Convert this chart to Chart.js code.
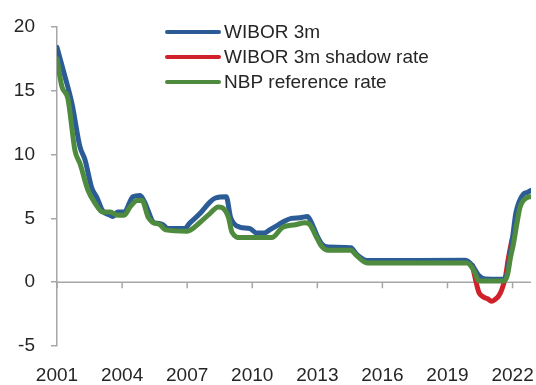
<!DOCTYPE html>
<html>
<head>
<meta charset="utf-8">
<script src="https://cdn.jsdelivr.net/npm/chart.js@4/dist/chart.umd.min.js"></script>
<style>
  html, body { margin: 0; padding: 0; background: #ffffff; }
  #wrap { position: relative; width: 536px; height: 385px; }
</style>
</head>
<body>
<div id="wrap"><canvas id="chart"></canvas></div>
<script>
// Interest rates in Poland, % (x = decimal year)
const seriesNames = ['WIBOR 3m', 'WIBOR 3m shadow rate', 'NBP reference rate'];

const wiborYears = [2001.0, 2001.37, 2001.69, 2002.06, 2002.29, 2002.6, 2002.85, 2003.1, 2003.45, 2003.58,
  2003.8, 2004.1, 2004.5, 2004.83, 2005.06, 2005.2, 2005.45, 2005.7, 2005.9, 2006.1,
  2006.9, 2007.1, 2007.6, 2008.06, 2008.3, 2008.8, 2009.0, 2009.15, 2009.45, 2009.9,
  2010.2, 2010.55, 2010.8, 2011.2, 2011.5, 2011.8, 2012.2, 2012.55, 2012.8, 2013.0,
  2013.2, 2013.5, 2014.55, 2014.8, 2015.3, 2019.83, 2020.15, 2020.43, 2020.75, 2021.53,
  2021.75, 2021.9, 2022.0, 2022.15, 2022.3, 2022.5, 2022.7, 2022.85];
const wiborValues = [18.4, 16.1, 14.0, 10.6, 9.6, 7.4, 6.6, 5.6, 5.25, 5.15,
  5.5, 5.5, 6.7, 6.8, 6.2, 5.6, 4.7, 4.6, 4.5, 4.2,
  4.2, 4.6, 5.4, 6.3, 6.6, 6.7, 5.1, 4.6, 4.3, 4.2,
  3.85, 3.85, 4.1, 4.5, 4.8, 5.0, 5.05, 5.15, 4.4, 3.6,
  3.0, 2.75, 2.7, 2.2, 1.7, 1.72, 1.3, 0.55, 0.25, 0.23,
  0.7, 2.3, 3.5, 5.4, 6.3, 6.9, 7.05, 7.2];

const shadowYears = [2020.15, 2020.3, 2020.45, 2020.65, 2020.85, 2021.03, 2021.2, 2021.35, 2021.5, 2021.67,
  2021.8, 2021.92, 2022.0];
const shadowValues = [1.3, 0.15, -0.8, -1.15, -1.3, -1.5, -1.35, -1.1, -0.6, 0.4,
  1.8, 2.9, 3.5];

const nbpYears = [2001.0, 2001.23, 2001.5, 2001.83, 2002.06, 2002.43, 2002.75, 2003.1, 2003.45, 2003.8,
  2004.1, 2004.37, 2004.7, 2004.92, 2005.2, 2005.4, 2005.75, 2006.0, 2007.0, 2007.6,
  2008.06, 2008.43, 2008.6, 2008.9, 2009.07, 2009.45, 2010.9, 2011.4, 2011.98, 2012.44,
  2012.6, 2013.0, 2013.2, 2013.5, 2014.55, 2014.8, 2015.3, 2019.9, 2020.15, 2020.3,
  2020.43, 2021.6, 2021.77, 2021.9, 2022.04, 2022.2, 2022.35, 2022.5, 2022.7, 2022.85];
const nbpValues = [17.5, 15.3, 14.4, 10.3, 9.3, 7.2, 6.2, 5.5, 5.5, 5.25,
  5.25, 5.9, 6.4, 6.4, 5.1, 4.7, 4.5, 4.1, 4.0, 4.7,
  5.4, 5.9, 5.85, 5.1, 3.9, 3.5, 3.5, 4.3, 4.5, 4.65,
  4.6, 3.4, 2.8, 2.5, 2.5, 2.1, 1.5, 1.5, 1.1, 0.6,
  0.1, 0.1, 0.6, 1.9, 3.0, 4.6, 5.9, 6.4, 6.65, 6.7];

const yearTicks = [2001, 2004, 2007, 2010, 2013, 2016, 2019, 2022];
const valueTicks = [-5, 0, 5, 10, 15, 20];

const seriesColors = ['#2c5c96', '#d0202a', '#4f8b3e'];
const axisGray = '#a6a6a6';
const textColor = '#262626';
const fontFamily = '"Liberation Sans", Arial, sans-serif';

const toPoints = (xs, ys) => xs.map((x, i) => ({ x: x, y: ys[i] }));

// Zero line with downward tick marks, plus the in-plot legend
const extrasPlugin = {
  id: 'extras',
  beforeDatasetsDraw(chart) {
    const { ctx, chartArea, scales } = chart;
    const y0 = scales.y.getPixelForValue(0);
    ctx.save();
    ctx.strokeStyle = axisGray;
    ctx.lineWidth = 1.5;
    ctx.beginPath();
    ctx.moveTo(chartArea.left, y0);
    ctx.lineTo(chartArea.right, y0);
    yearTicks.forEach(t => {
      const px = scales.x.getPixelForValue(t);
      ctx.moveTo(px, y0);
      ctx.lineTo(px, y0 + 6);
    });
    ctx.stroke();
    ctx.restore();
  },
  afterDraw(chart) {
    const { ctx } = chart;
    const rows = [32, 57, 82];
    ctx.save();
    ctx.font = '19px ' + fontFamily;
    ctx.textBaseline = 'middle';
    ctx.textAlign = 'left';
    seriesNames.forEach((name, i) => {
      ctx.strokeStyle = seriesColors[i];
      ctx.lineWidth = 4;
      ctx.lineCap = 'round';
      ctx.beginPath();
      ctx.moveTo(167, rows[i]);
      ctx.lineTo(219, rows[i]);
      ctx.stroke();
      ctx.fillStyle = textColor;
      ctx.fillText(name, 224, rows[i] + 1);
    });
    ctx.restore();
  }
};

const lineStyle = {
  borderWidth: 5,
  pointRadius: 0,
  pointHoverRadius: 0,
  fill: false,
  cubicInterpolationMode: 'monotone',
  borderJoinStyle: 'round',
  borderCapStyle: 'round'
};

// Keep the plot box fixed: no extra room reserved for edge labels
const noEdgePadding = (scale) => {
  scale.paddingLeft = 0;
  scale.paddingRight = 0;
  scale.paddingTop = 0;
  scale.paddingBottom = 0;
};

new Chart(document.getElementById('chart'), {
  type: 'line',
  data: {
    datasets: [
      Object.assign({ label: seriesNames[0], data: toPoints(wiborYears, wiborValues), borderColor: seriesColors[0], order: 2 }, lineStyle),
      Object.assign({ label: seriesNames[1], data: toPoints(shadowYears, shadowValues), borderColor: seriesColors[1], order: 3 }, lineStyle),
      Object.assign({ label: seriesNames[2], data: toPoints(nbpYears, nbpValues), borderColor: seriesColors[2], order: 1 }, lineStyle)
    ]
  },
  options: {
    responsive: true,
    maintainAspectRatio: false,
    animation: false,
    events: [],
    layout: { autoPadding: false, padding: { top: 27, right: 5, left: 0, bottom: 0 } },
    plugins: { legend: { display: false }, tooltip: { enabled: false } },
    scales: {
      x: {
        type: 'linear',
        min: 2001,
        max: 2022.85,
        afterBuildTicks: (scale) => { scale.ticks = yearTicks.map(v => ({ value: v })); },
        afterFit: (scale) => { scale.height = 39; noEdgePadding(scale); },
        grid: { display: false },
        border: { display: false },
        ticks: {
          autoSkip: false,
          maxRotation: 0,
          padding: 10,
          color: textColor,
          font: { family: fontFamily, size: 19 },
          callback: (v) => String(v)
        }
      },
      y: {
        min: -5,
        max: 20,
        afterBuildTicks: (scale) => { scale.ticks = valueTicks.map(v => ({ value: v })); },
        afterFit: (scale) => { scale.width = 57; noEdgePadding(scale); },
        grid: {
          drawOnChartArea: false,
          drawTicks: true,
          tickLength: 6,
          tickColor: axisGray,
          lineWidth: 1.5
        },
        border: { display: true, color: axisGray, width: 1.5 },
        ticks: {
          padding: 16,
          color: textColor,
          font: { family: fontFamily, size: 19 },
          callback: (v) => String(v)
        }
      }
    }
  },
  plugins: [extrasPlugin]
});
</script>
</body>
</html>
